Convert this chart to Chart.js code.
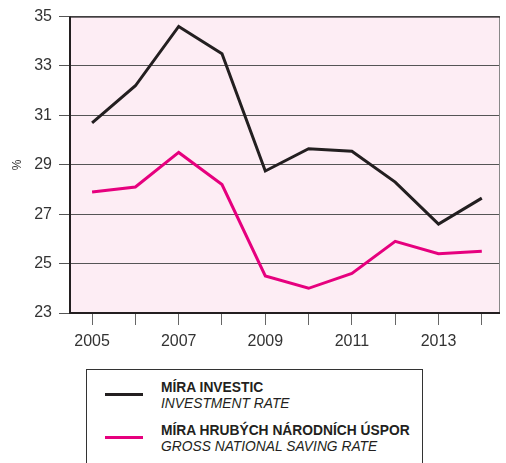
<!DOCTYPE html>
<html lang="cs">
<head>
<meta charset="UTF-8">
<title>Míra investic a hrubých národních úspor</title>
<script src="https://cdn.jsdelivr.net/npm/chart.js"></script>
</head>
<body style="margin:0; background:#fff; width:506px; height:463px; overflow:hidden; position:relative; font-family:'Liberation Sans', Arial, sans-serif;">
<div style="position:absolute; left:0; top:0; width:506px; height:352px;">
    <canvas id="chart" width="506" height="352"></canvas>
</div>

<!-- legenda -->
<div style="position:absolute; left:86px; top:369px; width:337px; height:110px; border:1.5px solid #333; box-sizing:border-box;">
    <div style="position:absolute; left:18px; top:23px; width:38px; height:3px; background:#231f20;"></div>
    <div style="position:absolute; left:74px; top:10px; font-size:13.8px; line-height:16px; color:#231f20;">
        <b>MÍRA INVESTIC</b><br><i>INVESTMENT RATE</i>
    </div>
    <div style="position:absolute; left:18px; top:66px; width:38px; height:3px; background:#e6007e;"></div>
    <div style="position:absolute; left:74px; top:53px; font-size:13.8px; line-height:16px; color:#231f20;">
        <b>MÍRA HRUBÝCH NÁRODNÍCH ÚSPOR</b><br><i>GROSS NATIONAL SAVING RATE</i>
    </div>
</div>

<script>
const years = [2005, 2006, 2007, 2008, 2009, 2010, 2011, 2012, 2013, 2014];
const investice = [30.7, 32.2, 34.6, 33.5, 28.75, 29.65, 29.55, 28.3, 26.6, 27.65];
const uspory = [27.9, 28.1, 29.5, 28.2, 24.5, 24.0, 24.6, 25.9, 25.4, 25.5];
const yTicks = [23, 25, 27, 29, 31, 33, 35];

const toPoints = arr => arr.map((v, i) => ({ x: years[i], y: v }));

// růžové pozadí + rámeček grafu
const bgPlugin = {
    id: 'bg',
    beforeDraw(chart) {
        const a = chart.chartArea, c = chart.ctx;
        c.save();
        c.fillStyle = '#fdedf4';
        c.fillRect(a.left, a.top, a.right - a.left, a.bottom - a.top);
        c.restore();
    },
    afterDatasetsDraw(chart) {
        const a = chart.chartArea, c = chart.ctx;
        c.save();
        c.strokeStyle = '#888';
        c.lineWidth = 1;
        c.beginPath();
        c.moveTo(a.right - 0.5, a.top);
        c.lineTo(a.right - 0.5, a.bottom);
        c.stroke();
        c.strokeStyle = '#231f20';
        c.lineWidth = 1;
        c.beginPath();
        c.moveTo(a.left, a.top + 0.5);
        c.lineTo(a.right, a.top + 0.5);
        c.stroke();
        c.lineWidth = 2;
        c.beginPath();
        c.moveTo(a.left, a.top);
        c.lineTo(a.left, a.bottom);
        c.lineTo(a.right, a.bottom);
        c.stroke();
        c.restore();
    }
};

new Chart(document.getElementById('chart'), {
    type: 'line',
    data: {
        datasets: [{
            label: 'Míra investic',
            data: toPoints(investice),
            borderColor: '#231f20',
            borderWidth: 3,
            pointRadius: 0,
            tension: 0
        }, {
            label: 'Míra hrubých národních úspor',
            data: toPoints(uspory),
            borderColor: '#e6007e',
            borderWidth: 3,
            pointRadius: 0,
            tension: 0
        }]
    },
    options: {
        responsive: false,
        animation: false,
        layout: { padding: { top: 12, right: 6, left: 10, bottom: 0 } },
        plugins: { legend: { display: false }, tooltip: { enabled: false } },
        scales: {
            x: {
                type: 'linear',
                min: 2004.49,
                max: 2014.42,
                afterBuildTicks(scale) {
                    scale.ticks = years.map(v => ({ value: v }));
                },
                afterFit(scale) { scale.height = 39; },
                ticks: {
                    autoSkip: false,
                    maxRotation: 0,
                    padding: 7,
                    color: '#333',
                    font: { family: "'Liberation Sans', Arial, sans-serif", size: 16 },
                    callback: v => (v % 2 === 1 ? String(v) : '')
                },
                grid: {
                    drawOnChartArea: false,
                    drawTicks: true,
                    tickLength: 12,
                    color: '#666',
                    lineWidth: 1
                },
                border: { display: false }
            },
            y: {
                min: 23,
                max: 35,
                afterBuildTicks(scale) {
                    scale.ticks = yTicks.map(v => ({ value: v }));
                },
                afterFit(scale) { scale.width = 60; },
                title: {
                    display: true,
                    text: '%',
                    color: '#333',
                    font: { family: "'Liberation Sans', Arial, sans-serif", size: 12 },
                    padding: { top: 0, bottom: 0 }
                },
                ticks: {
                    padding: 7,
                    color: '#333',
                    font: { family: "'Liberation Sans', Arial, sans-serif", size: 16 }
                },
                grid: {
                    color: '#555',
                    lineWidth: 1,
                    tickLength: 11
                },
                border: { display: false }
            }
        }
    },
    plugins: [bgPlugin]
});
</script>
</body>
</html>
